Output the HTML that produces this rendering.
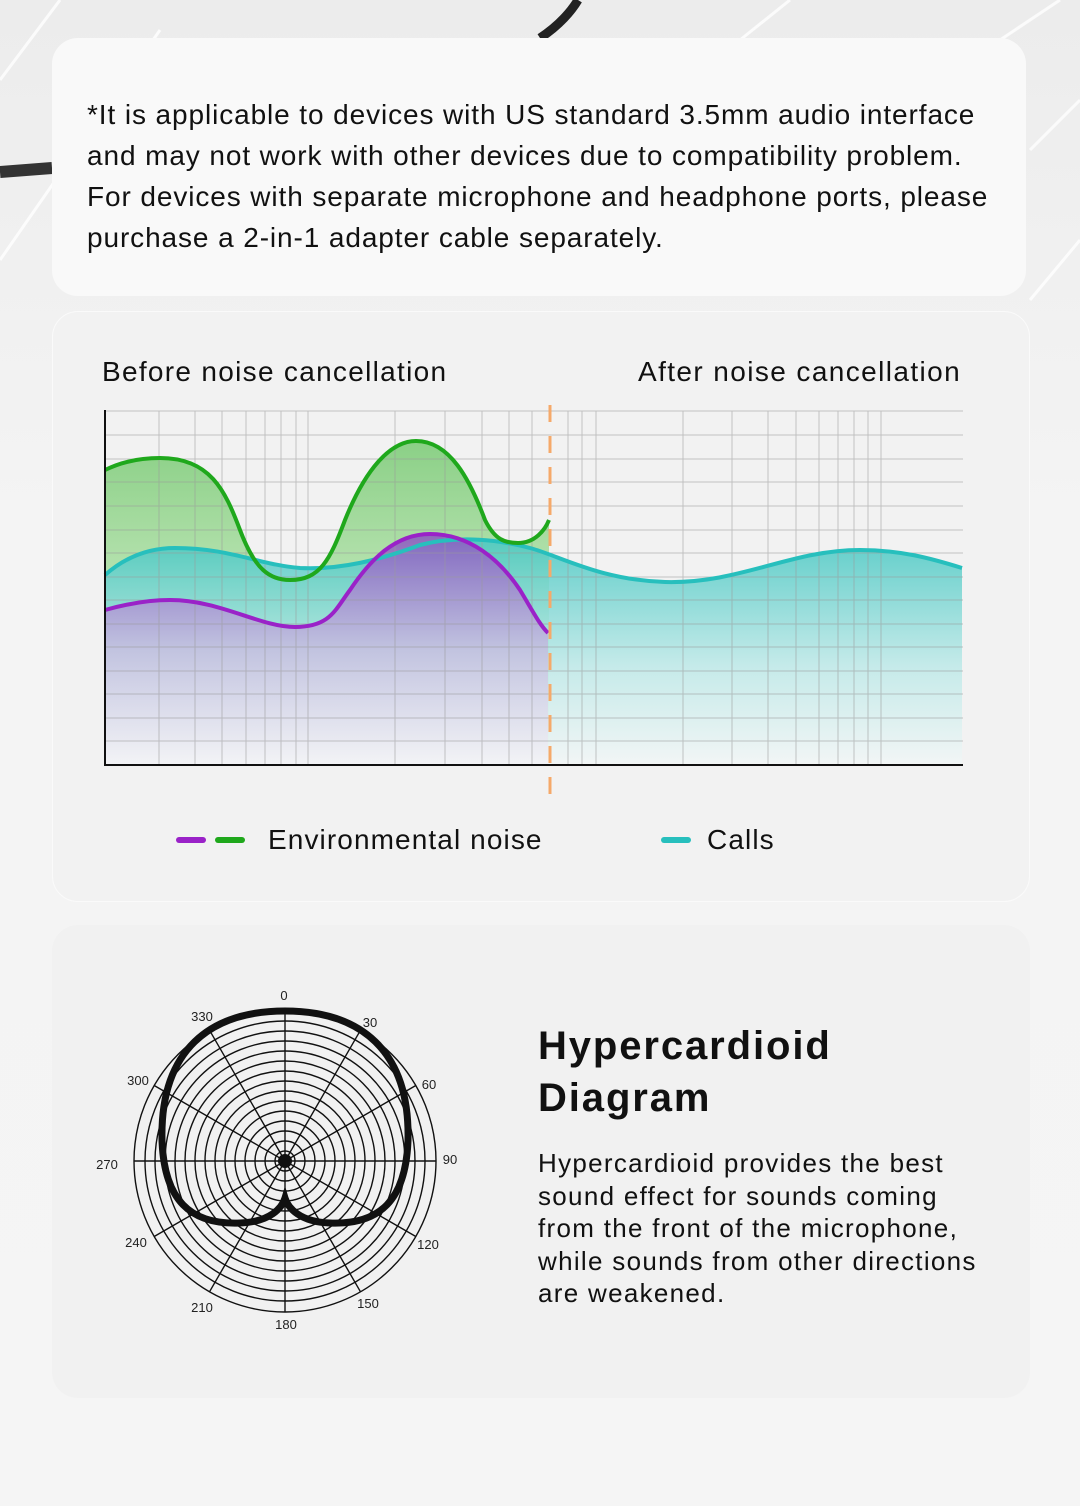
<!DOCTYPE html>
<html><head><meta charset="utf-8"><style>
html,body{margin:0;padding:0}
body{width:1080px;height:1506px;position:relative;overflow:hidden;background:#f1f1f1;font-family:"Liberation Sans",sans-serif;color:#111}
.card{position:absolute;border-radius:26px}
.t{position:absolute;white-space:nowrap}
</style></head><body>
<svg width="1080" height="1506" style="position:absolute;left:0;top:0">
<defs>
<linearGradient id="bg" x1="0" y1="0" x2="0" y2="1"><stop offset="0" stop-color="#ececec"/><stop offset="0.35" stop-color="#f4f4f4"/><stop offset="1" stop-color="#f5f5f5"/></linearGradient>
</defs>
<rect width="1080" height="1506" fill="url(#bg)"/>
<g stroke="#fff" stroke-width="3" opacity="0.8" fill="none">
<line x1="0" y1="80" x2="60" y2="0"/><line x1="0" y1="260" x2="160" y2="30"/>
<line x1="740" y1="40" x2="790" y2="0"/><line x1="1000" y1="40" x2="1060" y2="0"/>
<line x1="1030" y1="150" x2="1080" y2="100"/><line x1="1030" y1="300" x2="1080" y2="240"/>
</g>
<path d="M540,38 C560,25 572,10 578,0" stroke="#222" stroke-width="9" fill="none"/>
<path d="M0,172 L52,168" stroke="#333" stroke-width="12" fill="none"/>
</svg>
<div class="card" style="left:52px;top:38px;width:974px;height:258px;background:#f9f9f9"></div>
<div class="card" style="left:52px;top:311px;width:978px;height:591px;background:#f2f2f2;border:1px solid #fafafa;box-sizing:border-box"></div>
<div class="card" style="left:52px;top:925px;width:978px;height:473px;background:#f1f1f1"></div>
<div class="t" style="left:87px;top:94px;font-size:28px;line-height:41px;letter-spacing:0.9px">*It is applicable to devices with US standard 3.5mm audio interface<br>and may not work with other devices due to compatibility problem.<br>For devices with separate microphone and headphone ports, please<br>purchase a 2-in-1 adapter cable separately.</div>
<div class="t" style="left:102px;top:356px;font-size:28px;letter-spacing:1.3px">Before noise cancellation</div>
<div class="t" style="left:638px;top:356px;font-size:28px;letter-spacing:1.4px">After noise cancellation</div>
<svg width="1080" height="1506" style="position:absolute;left:0;top:0">
<defs>
<linearGradient id="gg" x1="0" x2="0" gradientUnits="userSpaceOnUse" y1="440" y2="765"><stop offset="0" stop-color="#7fcc7a"/><stop offset="0.5" stop-color="#b8e4b0"/><stop offset="1" stop-color="#eef7ee"/></linearGradient>
<linearGradient id="tg" x1="0" x2="0" gradientUnits="userSpaceOnUse" y1="545" y2="765"><stop offset="0" stop-color="#4cc9c4"/><stop offset="0.55" stop-color="#bde9e8"/><stop offset="1" stop-color="#f2f6f6"/></linearGradient>
<linearGradient id="pg" x1="0" x2="0" gradientUnits="userSpaceOnUse" y1="534" y2="765"><stop offset="0" stop-color="#8a55c0"/><stop offset="0.5" stop-color="#c4bde0"/><stop offset="1" stop-color="#f3f3f6"/></linearGradient>
</defs>
<path d="M105,470 C125,460 145,458 160,458 C210,458 225,490 240,530 C255,570 270,580 290,580 C320,580 330,560 345,520 C365,470 390,441 416,441 C450,441 470,480 485,520 C495,540 505,543 518,543 C535,543 545,530 549,520 L549,765 L105,765 Z" fill="url(#gg)" opacity="0.9"/>
<path d="M105,575 C130,553 155,548 175,548 C230,548 260,565 300,568 C340,570 380,560 420,545 C460,535 500,540 530,548 C560,556 600,580 665,582 C740,584 790,550 860,550 C900,550 930,558 962,568 L962,765 L105,765 Z" fill="url(#tg)" opacity="0.85"/>
<path d="M105,610 C130,603 150,600 170,600 C220,600 260,627 295,627 C330,627 335,610 350,590 C370,560 395,534 430,534 C470,534 500,560 520,590 C535,615 540,625 548,633 L548,765 L105,765 Z" fill="url(#pg)" opacity="0.85"/>
<g stroke="#9a9a9a" stroke-width="1" opacity="0.55">
<line x1="105" y1="411" x2="963" y2="411"/><line x1="105" y1="435" x2="963" y2="435"/><line x1="105" y1="459" x2="963" y2="459"/><line x1="105" y1="482" x2="963" y2="482"/><line x1="105" y1="506" x2="963" y2="506"/><line x1="105" y1="530" x2="963" y2="530"/><line x1="105" y1="553" x2="963" y2="553"/><line x1="105" y1="577" x2="963" y2="577"/><line x1="105" y1="600" x2="963" y2="600"/><line x1="105" y1="624" x2="963" y2="624"/><line x1="105" y1="647" x2="963" y2="647"/><line x1="105" y1="671" x2="963" y2="671"/><line x1="105" y1="694" x2="963" y2="694"/><line x1="105" y1="718" x2="963" y2="718"/><line x1="105" y1="741" x2="963" y2="741"/>
<path d="M159,411V765M195,411V765M222,411V765M246,411V765M265,411V765M281,411V765M296,411V765M308,411V765M395,411V765M445,411V765M482,411V765M509,411V765M532,411V765M568,411V765M582,411V765M596,411V765M683,411V765M732,411V765M768,411V765M796,411V765M819,411V765M838,411V765M854,411V765M868,411V765M881,411V765"/>
</g>
<path d="M105,575 C130,553 155,548 175,548 C230,548 260,565 300,568 C340,570 380,560 420,545 C460,535 500,540 530,548 C560,556 600,580 665,582 C740,584 790,550 860,550 C900,550 930,558 962,568" fill="none" stroke="#27bfbd" stroke-width="4"/>
<path d="M105,470 C125,460 145,458 160,458 C210,458 225,490 240,530 C255,570 270,580 290,580 C320,580 330,560 345,520 C365,470 390,441 416,441 C450,441 470,480 485,520 C495,540 505,543 518,543 C535,543 545,530 549,520" fill="none" stroke="#1fa81c" stroke-width="4"/>
<path d="M105,610 C130,603 150,600 170,600 C220,600 260,627 295,627 C330,627 335,610 350,590 C370,560 395,534 430,534 C470,534 500,560 520,590 C535,615 540,625 548,633" fill="none" stroke="#9a22c8" stroke-width="4"/>
<path d="M550,405 V795" stroke="#f5a96a" stroke-width="3" stroke-dasharray="17,14"/>
<path d="M105,410 V765 H963" fill="none" stroke="#111" stroke-width="2"/>
<line x1="179" y1="840" x2="203" y2="840" stroke="#9a22c8" stroke-width="6" stroke-linecap="round"/>
<line x1="218" y1="840" x2="242" y2="840" stroke="#1fa81c" stroke-width="6" stroke-linecap="round"/>
<line x1="664" y1="840" x2="688" y2="840" stroke="#27bfbd" stroke-width="6" stroke-linecap="round"/>
<g fill="none" stroke="#111" stroke-width="1.4">
<circle cx="285" cy="1161" r="10"/><circle cx="285" cy="1161" r="20"/><circle cx="285" cy="1161" r="30"/><circle cx="285" cy="1161" r="40"/><circle cx="285" cy="1161" r="50"/><circle cx="285" cy="1161" r="60"/><circle cx="285" cy="1161" r="70"/><circle cx="285" cy="1161" r="80"/><circle cx="285" cy="1161" r="90"/><circle cx="285" cy="1161" r="100"/><circle cx="285" cy="1161" r="110"/><circle cx="285" cy="1161" r="120"/><circle cx="285" cy="1161" r="130"/><circle cx="285" cy="1161" r="140"/><circle cx="285" cy="1161" r="151"/>
<path d="M285,1010V1312M134,1161H436M360.5,1030.2L209.5,1291.8M415.8,1085.5L154.2,1236.5M415.8,1236.5L154.2,1085.5M360.5,1291.8L209.5,1030.2"/>
</g>
<circle cx="285" cy="1161" r="7" fill="#111"/>
<path d="M285,1011 C360,1011 410,1050 408,1140 C406,1200 380,1225 330,1223 C300,1222 288,1208 285,1198 C282,1208 270,1222 240,1223 C190,1225 164,1200 162,1140 C160,1050 210,1011 285,1011 Z" fill="none" stroke="#111" stroke-width="7"/>
<g font-family="Liberation Sans" font-size="13" fill="#222" text-anchor="middle">
<text x="284" y="1000">0</text><text x="370" y="1027">30</text><text x="429" y="1089">60</text><text x="450" y="1164">90</text><text x="428" y="1249">120</text><text x="368" y="1308">150</text><text x="286" y="1329">180</text><text x="202" y="1312">210</text><text x="136" y="1247">240</text><text x="138" y="1085">300</text><text x="202" y="1021">330</text><text x="107" y="1169">270</text>
</g>
</svg>
<div class="t" style="left:268px;top:824px;font-size:28px;letter-spacing:1.1px">Environmental noise</div>
<div class="t" style="left:707px;top:824px;font-size:28px;letter-spacing:1.1px">Calls</div>
<div class="t" style="left:538px;top:1020px;font-size:40px;font-weight:bold;line-height:52px;letter-spacing:1.9px">Hypercardioid<br>Diagram</div>
<div class="t" style="left:538px;top:1147px;font-size:26px;line-height:32.6px;letter-spacing:1.3px">Hypercardioid provides the best<br>sound effect for sounds coming<br>from the front of the microphone,<br>while sounds from other directions<br>are weakened.</div>
</body></html>
